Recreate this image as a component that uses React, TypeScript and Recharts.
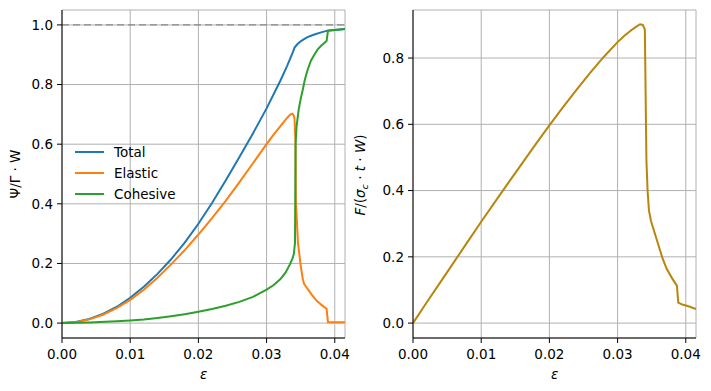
import React from 'react';
import { CartesianGrid, Label, Legend, Line, LineChart, ReferenceLine, XAxis, YAxis } from 'recharts';

// strain ticks shared by both panels
const strainTicks = [0, 0.01, 0.02, 0.03, 0.04];
const energyTicks = [0, 0.2, 0.4, 0.6, 0.8, 1.0];
const forceTicks = [0, 0.2, 0.4, 0.6, 0.8];

const totalEps = [0, 0.002, 0.004, 0.006, 0.008, 0.01, 0.012, 0.014, 0.016, 0.018, 0.02, 0.022, 0.024, 0.026, 0.028, 0.03, 0.032, 0.033, 0.0338, 0.0341, 0.0345, 0.035, 0.0355, 0.036, 0.037, 0.038, 0.0388, 0.039, 0.04, 0.0415];
const totalVals = [0, 0.0034, 0.0136, 0.0306, 0.054, 0.085, 0.122, 0.165, 0.214, 0.27, 0.333, 0.403, 0.478, 0.556, 0.636, 0.72, 0.812, 0.862, 0.905, 0.924, 0.935, 0.945, 0.952, 0.959, 0.968, 0.975, 0.98, 0.981, 0.983, 0.986];

const elasticEps = [0, 0.002, 0.004, 0.006, 0.008, 0.01, 0.012, 0.014, 0.016, 0.018, 0.02, 0.022, 0.024, 0.026, 0.028, 0.03, 0.031, 0.032, 0.033, 0.0335, 0.0338, 0.034, 0.0341, 0.03425, 0.0343, 0.0346, 0.035, 0.0353, 0.0355, 0.0361, 0.0367, 0.0373, 0.038, 0.0388, 0.039, 0.0415];
const elasticVals = [0, 0.003, 0.0125, 0.028, 0.05, 0.078, 0.112, 0.152, 0.197, 0.245, 0.297, 0.352, 0.41, 0.472, 0.536, 0.6, 0.631, 0.66, 0.688, 0.7, 0.702, 0.695, 0.684, 0.6, 0.41, 0.27, 0.193, 0.149, 0.132, 0.112, 0.093, 0.076, 0.062, 0.048, 0.003, 0.003];

const cohesiveEps = [0, 0.004, 0.008, 0.01, 0.012, 0.014, 0.016, 0.018, 0.02, 0.022, 0.024, 0.026, 0.028, 0.03, 0.031, 0.032, 0.0328, 0.0334, 0.0338, 0.034, 0.03417, 0.03425, 0.0344, 0.0347, 0.035, 0.0353, 0.0356, 0.036, 0.0365, 0.037, 0.0375, 0.038, 0.0385, 0.0388, 0.039, 0.04, 0.0415];
const cohesiveVals = [0, 0.002, 0.006, 0.009, 0.012, 0.017, 0.023, 0.03, 0.038, 0.047, 0.058, 0.071, 0.088, 0.112, 0.127, 0.147, 0.17, 0.196, 0.217, 0.232, 0.27, 0.6, 0.66, 0.715, 0.752, 0.782, 0.815, 0.848, 0.88, 0.9, 0.918, 0.93, 0.94, 0.946, 0.98, 0.983, 0.986];

const forceEps = [0, 0.002, 0.004, 0.006, 0.008, 0.01, 0.012, 0.014, 0.016, 0.018, 0.02, 0.022, 0.024, 0.026, 0.028, 0.03, 0.031, 0.032, 0.0327, 0.0333, 0.0337, 0.034, 0.03423, 0.0344, 0.0346, 0.0349, 0.0355, 0.036, 0.0366, 0.0372, 0.038, 0.0387, 0.0389, 0.0395, 0.0405, 0.0415];
const forceVals = [0, 0.062, 0.123, 0.184, 0.245, 0.306, 0.365, 0.424, 0.482, 0.54, 0.597, 0.652, 0.705, 0.756, 0.804, 0.848, 0.867, 0.884, 0.894, 0.902, 0.9, 0.886, 0.49, 0.4, 0.34, 0.308, 0.268, 0.235, 0.195, 0.164, 0.135, 0.113, 0.062, 0.056, 0.05, 0.042];

const zip = (xs: number[], ys: number[]) => xs.map((x, i) => ({ x, y: ys[i] }));

const totalData = zip(totalEps, totalVals);
const elasticData = zip(elasticEps, elasticVals);
const cohesiveData = zip(cohesiveEps, cohesiveVals);
const forceData = zip(forceEps, forceVals);

const legendItems = [
  { name: 'Total', color: '#1f77b4' },
  { name: 'Elastic', color: '#ff7f0e' },
  { name: 'Cohesive', color: '#2ca02c' },
];

const FONT = 'DejaVu Sans, sans-serif';
const FS = 13.5;
const tickStyle = { fill: '#000', fontSize: FS, fontFamily: FONT };
const margin = { top: 10, right: 15, left: 0, bottom: 0 };

const EpsLabel = () => (
  <text x={203.7} y={379} textAnchor="middle" fontSize={FS} fontStyle="italic" fontFamily={FONT} fill="#000">
    ε
  </text>
);

export default function App() {
  return (
    <div style={{ position: 'absolute', left: 0, top: 0, width: 711, height: 391, background: '#fff' }}>
      <div style={{ position: 'absolute', left: 0, top: 0 }}>
        <LineChart width={360} height={391} margin={margin}>
          <CartesianGrid stroke="#b0b0b0" strokeWidth={1} />
          <XAxis
            type="number"
            dataKey="x"
            domain={[0, 0.0415]}
            ticks={strainTicks}
            interval={0}
            allowDataOverflow
            height={53}
            tickSize={5}
            tickMargin={6}
            tick={tickStyle}
            tickFormatter={(v: number) => v.toFixed(2)}
            axisLine={{ stroke: '#000' }}
            tickLine={{ stroke: '#000' }}
          >
            <Label content={<EpsLabel />} />
          </XAxis>
          <YAxis
            type="number"
            domain={[-0.05, 1.05]}
            ticks={energyTicks}
            interval={0}
            allowDataOverflow
            width={62}
            tickSize={5}
            tickMargin={4}
            tick={tickStyle}
            tickFormatter={(v: number) => v.toFixed(1)}
            axisLine={{ stroke: '#000' }}
            tickLine={{ stroke: '#000' }}
          >
            <Label
              content={() => (
                <text x={20} y={174} transform="rotate(-90 20 174)" textAnchor="middle" fontSize={FS} fontFamily={FONT} fill="#000">
                  Ψ/Γ · W
                </text>
              )}
            />
          </YAxis>
          <ReferenceLine y={1} stroke="#888" strokeDasharray="7 4" strokeWidth={1.2} />
          <Line data={totalData} dataKey="y" type="linear" stroke="#1f77b4" strokeWidth={2} dot={false} isAnimationActive={false} />
          <Line data={elasticData} dataKey="y" type="linear" stroke="#ff7f0e" strokeWidth={2} dot={false} isAnimationActive={false} />
          <Line data={cohesiveData} dataKey="y" type="linear" stroke="#2ca02c" strokeWidth={2} dot={false} isAnimationActive={false} />
          <Legend
            layout="vertical"
            align="center"
            verticalAlign="middle"
            wrapperStyle={{ left: 70, top: 140, width: 130, height: 66 }}
            content={() => (
              <svg width={130} height={66}>
                {legendItems.map((item, i) => (
                  <g key={item.name}>
                    <line x1={5} x2={34} y1={12 + i * 21} y2={12 + i * 21} stroke={item.color} strokeWidth={2} />
                    <text x={44} y={12 + i * 21} dy="0.36em" fontSize={FS} fontFamily={FONT} fill="#000">
                      {item.name}
                    </text>
                  </g>
                ))}
              </svg>
            )}
          />
        </LineChart>
      </div>
      <div style={{ position: 'absolute', left: 351, top: 0 }}>
        <LineChart width={360} height={391} margin={margin}>
          <CartesianGrid stroke="#b0b0b0" strokeWidth={1} />
          <XAxis
            type="number"
            dataKey="x"
            domain={[0, 0.0415]}
            ticks={strainTicks}
            interval={0}
            allowDataOverflow
            height={53}
            tickSize={5}
            tickMargin={6}
            tick={tickStyle}
            tickFormatter={(v: number) => v.toFixed(2)}
            axisLine={{ stroke: '#000' }}
            tickLine={{ stroke: '#000' }}
          >
            <Label content={<EpsLabel />} />
          </XAxis>
          <YAxis
            type="number"
            domain={[-0.045, 0.945]}
            ticks={forceTicks}
            interval={0}
            allowDataOverflow
            width={62}
            tickSize={5}
            tickMargin={4}
            tick={tickStyle}
            tickFormatter={(v: number) => v.toFixed(1)}
            axisLine={{ stroke: '#000' }}
            tickLine={{ stroke: '#000' }}
          >
            <Label
              content={() => (
                <text x={14} y={175} transform="rotate(-90 14 175)" textAnchor="middle" fontSize={FS} fontFamily={FONT} fill="#000">
                  <tspan fontStyle="italic">F</tspan>
                  <tspan>/(</tspan>
                  <tspan fontStyle="italic">σ</tspan>
                  <tspan fontStyle="italic" fontSize={9.5} dy={3}>c</tspan>
                  <tspan dy={-3}> · </tspan>
                  <tspan fontStyle="italic">t</tspan>
                  <tspan> · </tspan>
                  <tspan fontStyle="italic">W</tspan>
                  <tspan>)</tspan>
                </text>
              )}
            />
          </YAxis>
          <Line data={forceData} dataKey="y" type="linear" stroke="#b8860b" strokeWidth={2} dot={false} isAnimationActive={false} />
        </LineChart>
      </div>
    </div>
  );
}
